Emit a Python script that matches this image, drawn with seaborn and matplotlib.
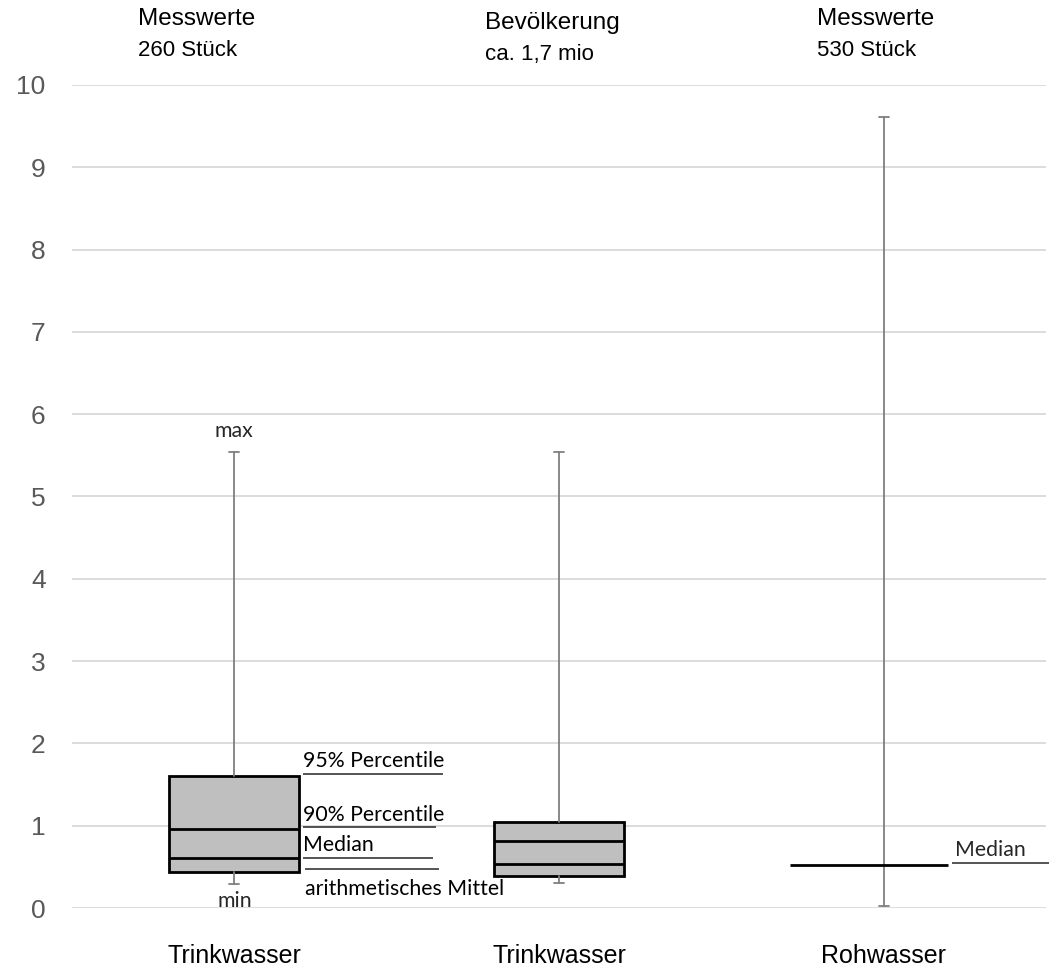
import matplotlib
matplotlib.use("Agg")
import matplotlib.pyplot as plt
import seaborn as sns

# ---------------- data ----------------
categories = ["Trinkwasser", "Trinkwasser", "Rohwasser"]
header_titles = ["Messwerte", "Bevölkerung", "Messwerte"]
header_subs = ["260 Stück", "ca. 1,7 mio", "530 Stück"]
val_min = [0.29, 0.30, 0.02]
val_max = [5.54, 5.54, 9.61]
box_low = [0.44, 0.39]
box_median = [0.61, 0.53]
box_p90 = [0.96, 0.81]
box_p95 = [1.60, 1.045]
roh_median = 0.52
mean_value = 0.47
yticks = list(range(0, 11))

sns.set_theme(style="white")
plt.rcParams["font.family"] = ["Liberation Sans", "DejaVu Sans"]

fig = plt.figure(figsize=(10.54, 9.73), dpi=100)
ax = fig.add_axes([72 / 1054, 65 / 973, 974 / 1054, 823 / 973])

grid_c = "#d9d9d9"
whisk_c = "#7f7f7f"
ax.set_ylim(0, 10)
ax.set_xlim(-0.5, 2.5)
ax.set_yticks(yticks)
for y in yticks:
    ax.axhline(y, color=grid_c, lw=1.3, zorder=0)
for s in ax.spines.values():
    s.set_visible(False)

capw = 0.03

# boxes for the two Trinkwasser series
stats = []
for i in range(2):
    stats.append(dict(whislo=val_min[i], q1=box_low[i], med=box_median[i],
                      q3=box_p95[i], whishi=val_max[i], fliers=[]))
bp = ax.bxp(stats, positions=[0, 1], widths=0.4, patch_artist=True,
            showfliers=False, capwidths=capw,
            boxprops=dict(facecolor="#bfbfbf", edgecolor="black", linewidth=2),
            medianprops=dict(color="black", linewidth=2),
            whiskerprops=dict(color=whisk_c, linewidth=1.3),
            capprops=dict(color=whisk_c, linewidth=1.3), zorder=3)
ax.hlines(box_p90, [-0.2, 0.8], [0.2, 1.2], colors="black", linewidth=2, zorder=4)

# Rohwasser: whisker + median line
ax.bxp([dict(whislo=val_min[2], q1=roh_median, med=roh_median, q3=roh_median,
             whishi=val_max[2], fliers=[])], positions=[2], widths=0.0,
       showbox=False, showfliers=False, capwidths=capw,
       medianprops=dict(linewidth=0),
       whiskerprops=dict(color=whisk_c, linewidth=1.3),
       capprops=dict(color=whisk_c, linewidth=1.3), zorder=3)
ax.hlines(roh_median, 1.712, 2.199, colors="black", linewidth=2, zorder=4)

# x tick labels
ax.set_xticks([0, 1, 2])
ax.set_xticklabels(categories, fontsize=18, color="black")
ax.tick_params(axis="x", length=0, pad=26)
ax.tick_params(axis="y", length=0, pad=19, labelsize=19, labelcolor="#595959")

# annotations (Calibri-like)
af = ["Lato", "DejaVu Sans"]
afs = 15.3
ac = "black"
ax.text(0, val_max[0] + 0.13, "max", ha="center", va="bottom", fontsize=afs, family=af)
ax.text(0, val_min[0] - 0.08, "min", ha="center", va="top", fontsize=afs, family=af)

def ann(x0, x1, y, label, below=False):
    ax.hlines(y, x0, x1, colors="#262626", linewidth=1.1, zorder=4, clip_on=False)
    if label:
        if below:
            ax.text(x0, y - 0.12, label, ha="left", va="top", fontsize=afs, family=af, color=ac)
        else:
            ax.text(x0, y + 0.03, label, ha="left", va="bottom", fontsize=afs, family=af, color=ac)

ann(0.2125, 0.644, box_p95[0] + 0.03, "95% Percentile")
ann(0.2125, 0.622, box_p90[0] + 0.02, "90% Percentile")
ann(0.2125, 0.613, box_median[0], "Median")
ann(0.219, 0.631, mean_value, "arithmetisches Mittel", below=True)
ax.hlines(roh_median + 0.03, 2.211, 2.51, colors="#262626", linewidth=1.1, zorder=4, clip_on=False)
ax.text(2.22, roh_median + 0.06, "Median", ha="left", va="bottom", fontsize=afs, family=af)

# headers
hx = [138, 485, 817]
htop = [8, 12, 8]
stop = [40, 44, 40]
for i in range(3):
    fig.text(hx[i] / 1054, 1 - htop[i] / 973, header_titles[i], ha="left", va="top",
             fontsize=17.5, color="black")
    fig.text(hx[i] / 1054, 1 - stop[i] / 973, header_subs[i], ha="left", va="top",
             fontsize=16, color="black")

fig.savefig("out.png", dpi=100)
